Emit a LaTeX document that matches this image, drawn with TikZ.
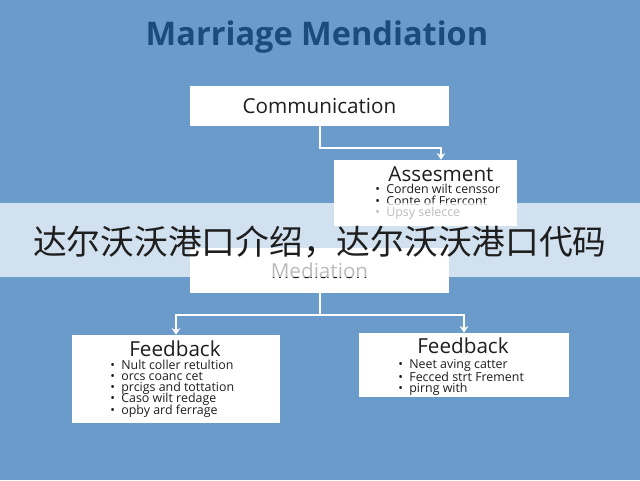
\documentclass[tikz,border=0pt]{standalone}
\usepackage{fontspec}
\setmainfont{Open Sans}
\newfontfamily\cjkfont{Noto Sans CJK SC}
\usetikzlibrary{arrows.meta}
\definecolor{bgblue}{HTML}{6B9BCB}
\definecolor{titleblue}{HTML}{1C4A7C}
\definecolor{inktext}{HTML}{1E1E1E}
\tikzset{
  panel/.style 2 args={fill=white, minimum width=#1, minimum height=#2, inner sep=0pt},
  boxtitle/.style={text=inktext, font=\fontsize{15.5}{17}\selectfont, inner sep=0pt},
  bulletline/.style={text=inktext, font=\fontsize{9.3}{10}\selectfont, anchor=west, inner sep=0pt},
  link/.style={draw=white, line width=1.5pt},
  linkarrow/.style={link, -{Stealth[length=5pt,width=6.5pt]}}
}
\begin{document}
\begin{tikzpicture}[x=0.75pt,y=-0.75pt]
  \fill[bgblue] (0,0) rectangle (640,480);
  \useasboundingbox (0,0) rectangle (640,480);
  \node[text=titleblue, font=\fontsize{24.4}{27}\selectfont\bfseries] (title) at (317,37) {Marriage Mendiation};
  % boxes
  \node[panel={194.25pt}{30pt}, boxtitle] (comm) at (319.5,106) {Communication};
  \node[panel={137.25pt}{49.5pt}] (assess) at (425.5,193) {};
  \node[panel={194.25pt}{33.75pt}, boxtitle] (med) at (319.5,270.5) {Mediation};
  \node[panel={156pt}{66pt}] (fbleft) at (176,379) {};
  \node[panel={157.5pt}{48pt}] (fbright) at (464,365) {};
  % Assessment contents
  \node[boxtitle] (asstitle) at (441,174) {Assesment};
  \node[bulletline] (as1) at (375,189) {\textbullet\ \ Corden wilt censsor};
  \node[bulletline] (as2) at (375,201) {\textbullet\ \ Conte of Frercont};
  \node[bulletline] (as3) at (375,213) {\textbullet\ \ Upsy selecce};
  % left Feedback contents
  \node[boxtitle] (fltitle) at (175,349) {Feedback};
  \node[bulletline] (fl1) at (110,365) {\textbullet\ \ Nult coller retultion};
  \node[bulletline] (fl2) at (110,376.5) {\textbullet\ \ orcs coanc cet};
  \node[bulletline] (fl3) at (110,388) {\textbullet\ \ prcigs and tottation};
  \node[bulletline] (fl4) at (110,399.5) {\textbullet\ \ Caso wilt redage};
  \node[bulletline] (fl5) at (110,411) {\textbullet\ \ opby ard ferrage};
  % right Feedback contents
  \node[boxtitle] (frtitle) at (463,346) {Feedback};
  \node[bulletline] (fr1) at (398,365) {\textbullet\ \ Neet aving catter};
  \node[bulletline] (fr2) at (398,377) {\textbullet\ \ Fecced strt Frement};
  \node[bulletline] (fr3) at (398,389) {\textbullet\ \ pirng with};
  % connectors
  \draw[linkarrow] (comm.south) -- ++(0,22) -| ([xshift=11.6pt]assess.north);
  \draw[link] (med.south) -- ++(0,22) coordinate (split);
  \draw[linkarrow] (split) -| (fbleft.north);
  \draw[linkarrow] (split) -| (fbright.north);
  % banner
  \fill[white, fill opacity=0.7] (0,203) rectangle (640,277);
  \node[text=inktext, font=\cjkfont\fontsize{25.3}{28}\selectfont] (banner) at (320,242) {达尔沃沃港口介绍，达尔沃沃港口代码};
\end{tikzpicture}
\end{document}
